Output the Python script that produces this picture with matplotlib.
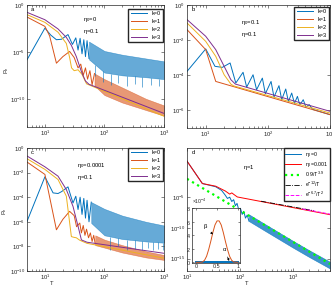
import numpy as np
import matplotlib
matplotlib.use('Agg')
import matplotlib.pyplot as plt
from matplotlib.ticker import FixedLocator, LogFormatterSciNotation, NullFormatter, LogLocator

plt.rcParams['font.family'] = ['Liberation Sans', 'DejaVu Sans']
plt.rcParams['mathtext.fontset'] = 'custom'
plt.rcParams['mathtext.rm'] = 'Liberation Sans'
plt.rcParams['mathtext.it'] = 'Liberation Sans:italic'
plt.rcParams['mathtext.default'] = 'regular'

C0 = (0.0, 0.447, 0.741)
C1 = (0.850, 0.325, 0.098)
C2 = (0.929, 0.694, 0.125)
C3 = (0.494, 0.184, 0.556)
AX = (0.15, 0.15, 0.15)

# ---------------- data (log10 of P_e) ----------------
# Panel a: eta0=0, eta=0.1
a_T_k0 = [5, 10, 12.5, 15.6, 19, 24.4, 29, 33, 36, 39, 42, 45, 48, 51, 55]
a_P_k0 = [-5.84, -2.46, -3.2, -3.7, -3.65, -3.15, -4.2, -3.5, -4.8, -3.55, -5.2, -3.7, -5.5, -3.8, -5.7]
a_T_k0_band = [55, 100, 200, 500, 1000]
a_hi_k0 = [-3.9, -4.9, -5.3, -5.7, -6.0]
a_lo_k0 = [-5.8, -7.2, -7.5, -7.7, -7.9]
a_T_k0_spk = [70, 95, 130, 170, 240, 320, 430, 600, 820]
a_lo_k0_spk = [-7.6, -8.2, -8.5, -8.3, -8.6, -8.4, -8.7, -8.5, -8.6]

a_T_k1 = [5, 10, 12, 15.6, 20, 26, 31, 36, 40, 44, 48, 52, 57, 62, 68]
a_P_k1 = [-1.28, -2.28, -3.3, -6.2, -5.5, -4.95, -5.6, -6.7, -6.3, -7.5, -6.7, -7.9, -7.0, -8.5, -7.3]
a_T_k1_band = [68, 100, 200, 500, 1000]
a_hi_k1 = [-7.3, -7.9, -8.8, -10.0, -10.7]
a_lo_k1 = [-8.6, -9.6, -10.4, -11.2, -11.8]

a_T_k2 = [5, 10, 16.6, 22.9, 26, 28, 31, 36, 42, 50, 1000]
a_P_k2 = [-1.03, -1.85, -2.9, -4.1, -5.6, -6.7, -7.0, -6.9, -7.4, -8.4, -11.85]

a_T_k3 = [5, 10, 16.6, 22.9, 27.8, 33.7, 41, 48, 55, 1000]
a_P_k3 = [-0.78, -1.57, -2.55, -3.45, -4.3, -5.5, -7.1, -8.1, -8.45, -11.55]

# Panel b: eta0=0.1, eta=0.1
b_T_k0 = [5, 10, 14.1, 18.5, 24.7, 30.5, 39.9, 45.6, 57.8, 65.9, 81.6, 91.1, 112.6, 125.5,
          151, 167, 194, 214, 242, 268, 299, 327, 371, 410, 463, 526, 1000]
b_P_k0 = [-3.78, -2.50, -3.49, -3.55, -3.30, -4.44, -3.83, -4.67, -3.97, -4.82, -4.16, -5.05,
          -4.35, -5.24, -4.59, -5.39, -4.78, -5.50, -5.01, -5.60, -5.20, -5.69, -5.39, -5.81,
          -5.67, -5.94, -6.24]
b_T_k1 = [5, 10, 14.5, 1000]
b_P_k1 = [-1.40, -2.54, -4.35, -6.24]
b_T_k2 = [5, 10, 14.5, 19.8, 25.4, 28, 1000]
b_P_k2 = [-1.02, -2.07, -2.92, -3.97, -4.5, -4.6, -6.15]
b_T_k3 = [5, 10, 14.5, 19.8, 25.4, 30, 1000]
b_P_k3 = [-0.83, -1.78, -2.54, -3.49, -4.25, -4.5, -6.05]

# Panel c: eta0=0.0001, eta=0.1
c_T_k0 = [5, 10, 13.7, 16.6, 19, 24.4, 29.6, 33, 36, 39, 42, 45, 48, 51, 55, 60]
c_P_k0 = [-5.97, -2.34, -3.65, -3.7, -3.55, -3.16, -4.47, -3.92, -5.0, -4.0, -5.4, -4.1, -5.7,
          -4.25, -6.0, -4.4]
c_T_k0_band = [60, 100, 200, 500, 1000]
c_hi_k0 = [-4.4, -4.95, -5.5, -6.0, -6.3]
c_lo_k0 = [-6.1, -7.1, -7.4, -7.6, -7.7]
c_T_k0_spk = [125, 170, 240, 330, 420, 530, 650, 800, 950]
c_lo_k0_spk = [-8.3, -8.0, -8.3, -8.2, -8.3, -8.1, -8.3, -8.2, -8.3]

c_T_k1 = [5, 10, 15.6, 20, 26, 31, 34, 38.5, 41, 44, 47, 50, 54, 58, 62, 66, 70]
c_P_k1 = [-1.14, -2.15, -6.65, -5.8, -5.15, -5.5, -6.4, -6.1, -6.9, -6.3, -7.1, -6.6, -7.3,
          -6.9, -7.6, -7.1, -7.8]
c_T_k1_band = [70, 100, 200, 500, 1000]
c_hi_k1 = [-7.1, -7.45, -7.9, -8.4, -8.7]
c_lo_k1 = [-7.9, -8.1, -8.5, -8.9, -9.1]

c_T_k2 = [5, 10, 16.6, 22.9, 27.8, 30, 33.7, 38.5, 50.9, 1000]
c_P_k2 = [-0.87, -1.74, -2.56, -3.92, -7.2, -7.25, -7.3, -7.5, -7.75, -8.96]
c_T_k3 = [5, 10, 16.6, 22.9, 29.6, 36.1, 41, 50.9, 1000]
c_P_k3 = [-0.65, -1.53, -2.29, -3.38, -4.74, -6.38, -7.47, -7.66, -8.56]

# Panel d: eta=1
d_T_eta0 = [10, 19.5, 34.8, 45, 52, 58, 64, 70, 76, 82, 88, 95, 102, 110, 118, 127, 137, 148]
d_P_eta0 = [0.87, -2.78, -3.3, -3.9, -4.6, -5.2, -5.0, -5.7, -5.4, -6.4, -6.0, -7.1, -6.8, -7.8,
            -7.3, -8.4, -7.9, -8.9]
d_T_eta0_band = [148, 300, 1000, 2000, 5000]
d_hi_eta0 = [-7.8, -9.4, -12.1, -13.6, -15.5]
d_lo_eta0 = [-8.9, -10.5, -13.2, -14.7, -16.6]
d_T_eta1 = [10, 19.5, 34.8, 53, 64, 70, 78, 89, 5000]
d_P_eta1 = [0.87, -2.78, -3.21, -4.0, -4.5, -4.3, -4.6, -4.96, -7.84]
d_T_fit1 = [10, 5000]
d_P_fit1 = [-2.01, -15.86]
d_T_fit2 = [250, 2500]
d_P_fit2 = [-5.65, -7.2]
d_T_fit3 = [1500, 5000]
d_P_fit3 = [-6.9, -7.75]

# inset
in_x = [0, 0.1, 0.15, 0.2, 0.25, 0.3, 0.35, 0.4, 0.45, 0.5, 0.55, 0.6, 0.65, 0.7, 0.75, 0.8,
        0.85, 0.9, 1.0]
in_beta = [0, 0, 0.05e-4, 0.3e-4, 0.9e-4, 1.9e-4, 3.1e-4, 4.4e-4, 5.5e-4, 6.1e-4, 6.1e-4,
           5.5e-4, 4.4e-4, 3.1e-4, 1.9e-4, 0.9e-4, 0.3e-4, 0.05e-4, 0]
in_alpha = [0, 0, 0, 0, 0, 0, 0, 0, 0, 0, 0, 0, 0, 0, 0, 0, 0, 0, 0]

# ---------------- figure ----------------
W, H = 332, 286
fig = plt.figure(figsize=(W / 100, H / 100), dpi=100)
FS = 4.2


def box(l, t, r, b):
    return [l / W, 1 - b / H, (r - l) / W, (b - t) / H]


def style(ax, xlim, ylim, yt, xt):
    ax.set_xscale('log')
    ax.set_yscale('log')
    ax.set_xlim(*xlim)
    ax.set_ylim(*ylim)
    ax.yaxis.set_major_locator(FixedLocator(yt))
    ax.yaxis.set_minor_locator(FixedLocator([]))
    ax.yaxis.set_major_formatter(LogFormatterSciNotation())
    ax.xaxis.set_major_locator(FixedLocator(xt))
    ax.xaxis.set_minor_locator(LogLocator(base=10, subs=np.arange(2, 10)))
    ax.xaxis.set_minor_formatter(NullFormatter())
    ax.xaxis.set_major_formatter(LogFormatterSciNotation())
    ax.tick_params(which='both', direction='in', top=True, right=True, labelsize=FS,
                   color=AX, labelcolor=AX, width=0.4, pad=1.5)
    ax.tick_params(which='major', length=2.0)
    ax.tick_params(which='minor', length=1.1)
    for s in ax.spines.values():
        s.set_color(AX)
        s.set_linewidth(0.5)


def P(v):
    return 10 ** np.asarray(v, dtype=float)


LW = 0.7
BA = 0.6
leg_kw = dict(fontsize=FS - 0.2, frameon=True, fancybox=False, edgecolor=AX, framealpha=1,
              borderpad=0.4, labelspacing=0.5, handlelength=3.0, handletextpad=0.8,
              borderaxespad=0)

# ---- panel a ----
axa = fig.add_axes(box(27, 5, 164, 127))
axa.fill_between(a_T_k0_band, P(a_lo_k0), P(a_hi_k0), color=C0, alpha=BA, lw=0.4)
axa.vlines(a_T_k0_spk, P(a_lo_k0_spk), P(np.interp(np.log10(a_T_k0_spk), np.log10(a_T_k0_band), a_lo_k0)),
           color=C0, lw=0.5, alpha=0.8)
axa.plot(a_T_k0, P(a_P_k0), color=C0, lw=LW, label='k=0')
axa.fill_between(a_T_k1_band, P(a_lo_k1), P(a_hi_k1), color=C1, alpha=BA, lw=0.4)
axa.plot(a_T_k1, P(a_P_k1), color=C1, lw=LW, label='k=1')
axa.plot(a_T_k2, P(a_P_k2), color=C2, lw=LW, label='k=2')
axa.plot(a_T_k3, P(a_P_k3), color=C3, lw=LW, label='k=3')
style(axa, (5, 1000), (1e-13, 1), [1e-10, 1e-5, 1], [10, 100, 1000])
axa.legend(loc='upper right', bbox_to_anchor=(163 / W, 1 - 9 / H), bbox_transform=fig.transFigure, **leg_kw)
axa.text(0.03, 0.985, 'a', transform=axa.transAxes, fontsize=FS, va='top', color='k')
axa.text(0.41, 0.885, r'$\eta_0$=0', transform=axa.transAxes, fontsize=FS, va='center')
axa.text(0.41, 0.78, r'$\eta$=0.1', transform=axa.transAxes, fontsize=FS, va='center')
fig.text(7 / W, 1 - 70 / H, r'$P_e$', fontsize=FS, rotation=90, ha='center', va='center', color=AX)

# ---- panel b ----
axb = fig.add_axes(box(187, 5, 330, 128))
axb.plot(b_T_k0, P(b_P_k0), color=C0, lw=LW, label='k=0')
axb.plot(b_T_k1, P(b_P_k1), color=C1, lw=LW, label='k=1')
axb.plot(b_T_k2, P(b_P_k2), color=C2, lw=LW, label='k=2')
axb.plot(b_T_k3, P(b_P_k3), color=C3, lw=LW, label='k=3')
style(axb, (5, 1000), (1e-7, 1), [1e-6, 1e-4, 1e-2, 1], [10, 100, 1000])
axb.legend(loc='upper right', bbox_to_anchor=(329 / W, 1 - 7 / H), bbox_transform=fig.transFigure, **leg_kw)
axb.text(0.03, 0.985, 'b', transform=axb.transAxes, fontsize=FS, va='top')
axb.text(0.38, 0.854, r'$\eta_0$=0.1', transform=axb.transAxes, fontsize=FS, va='center')
axb.text(0.38, 0.764, r'$\eta$=0.1', transform=axb.transAxes, fontsize=FS, va='center')

# ---- panel c ----
axc = fig.add_axes(box(27, 148, 164, 271))
axc.fill_between(c_T_k0_band, P(c_lo_k0), P(c_hi_k0), color=C0, alpha=BA, lw=0.4)
axc.vlines(c_T_k0_spk, P(c_lo_k0_spk), P(np.interp(np.log10(c_T_k0_spk), np.log10(c_T_k0_band), c_lo_k0)),
           color=C0, lw=0.5, alpha=0.8)
axc.plot(c_T_k0, P(c_P_k0), color=C0, lw=LW, label='k=0')
axc.fill_between(c_T_k1_band, P(c_lo_k1), P(c_hi_k1), color=C1, alpha=BA, lw=0.4)
axc.plot(c_T_k1, P(c_P_k1), color=C1, lw=LW, label='k=1')
axc.plot(c_T_k2, P(c_P_k2), color=C2, lw=LW, label='k=2')
axc.plot(c_T_k3, P(c_P_k3), color=C3, lw=LW, label='k=3')
style(axc, (5, 1000), (1e-10, 1), [1e-10, 1e-8, 1e-6, 1e-4, 1e-2, 1], [10, 100, 1000])
axc.legend(loc='upper right', bbox_to_anchor=(163 / W, 1 - 148 / H), bbox_transform=fig.transFigure, **leg_kw)
axc.text(0.03, 0.985, 'c', transform=axc.transAxes, fontsize=FS, va='top')
axc.text(0.365, 0.854, r'$\eta_0$=0.0001', transform=axc.transAxes, fontsize=FS, va='center')
axc.text(0.365, 0.764, r'$\eta$=0.1', transform=axc.transAxes, fontsize=FS, va='center')
fig.text(5 / W, 1 - 211 / H, r'$P_e$', fontsize=FS, rotation=90, ha='center', va='center', color=AX)
fig.text(52 / W, 1 - 283.5 / H, 'T', fontsize=FS, ha='center', va='center', color=AX)

# ---- panel d ----
axd = fig.add_axes(box(187, 148, 330, 271))
axd.fill_between(d_T_eta0_band, P(d_lo_eta0), P(d_hi_eta0), color=C0, alpha=0.75, lw=0.4)
axd.plot(d_T_eta0, P(d_P_eta0), color=C0, lw=LW, label=r'$\eta_0$=0')
axd.plot(d_T_eta1, P(d_P_eta1), color=(1, 0, 0), lw=LW, label=r'$\eta_0$=0.001')
axd.plot(d_T_fit1, P(d_P_fit1), color=(0, 1, 0), lw=1.6, ls=':', label=r'0.9/T$^{3.9}$')
axd.plot(d_T_fit2, P(d_P_fit2), color='k', lw=0.6, ls='-.', label=r'e$^{-12}$/T')
axd.plot(d_T_fit3, P(d_P_fit3), color=(1, 0, 1), lw=0.7, ls='--', label=r'e$^{-6.7}$/T$^2$')
style(axd, (10, 5000), (1e-17, 1e3), [1e-15, 1e-10, 1e-5], [10, 100, 1000])
axd.legend(loc='upper right', bbox_to_anchor=(330 / W, 1 - 148 / H), bbox_transform=fig.transFigure,
           **dict(leg_kw, labelspacing=0.18, borderpad=0.3, fontsize=FS - 0.4))
axd.text(0.03, 0.985, 'd', transform=axd.transAxes, fontsize=FS, va='top')
axd.text(0.39, 0.845, r'$\eta$=1', transform=axd.transAxes, fontsize=FS, va='center')
fig.text(247 / W, 1 - 283.5 / H, 'T', fontsize=FS, ha='center', va='center', color=AX)

# ---- inset ----
axi = fig.add_axes(box(192, 208, 240, 263))
axi.plot(in_x, in_alpha, color=C0, lw=1.4)
axi.plot(in_x, in_beta, color=C1, lw=0.7)
axi.set_xlim(-0.1, 1.05)
axi.set_ylim(-0.1e-4, 8e-4)
axi.set_xticks([0, 0.5, 1])
axi.set_xticklabels(['0', '0.5', '1'])
axi.set_yticks([0, 2e-4, 4e-4, 6e-4, 8e-4])
axi.ticklabel_format(axis='y', style='sci', scilimits=(0, 0), useMathText=True)
axi.yaxis.get_offset_text().set_fontsize(FS - 0.5)
axi.tick_params(direction='in', top=True, right=True, labelsize=FS - 0.3, length=1.5,
                width=0.4, pad=1, color=AX, labelcolor=AX)
for s in axi.spines.values():
    s.set_color(AX)
    s.set_linewidth(0.5)
axi.annotate(r'$\beta$', xy=(0.40, 4.1e-4), xytext=(0.22, 5.3e-4), fontsize=FS,
             ha='center', va='center',
             arrowprops=dict(arrowstyle='-|>', color='k', lw=0.5, mutation_scale=3, shrinkA=1, shrinkB=0))
axi.annotate(r'$\alpha$', xy=(0.79, 0.2e-4), xytext=(0.68, 1.9e-4), fontsize=FS,
             ha='center', va='center',
             arrowprops=dict(arrowstyle='-|>', color='k', lw=0.5, mutation_scale=3, shrinkA=1, shrinkB=0))

fig.savefig('out.png', dpi=100)
